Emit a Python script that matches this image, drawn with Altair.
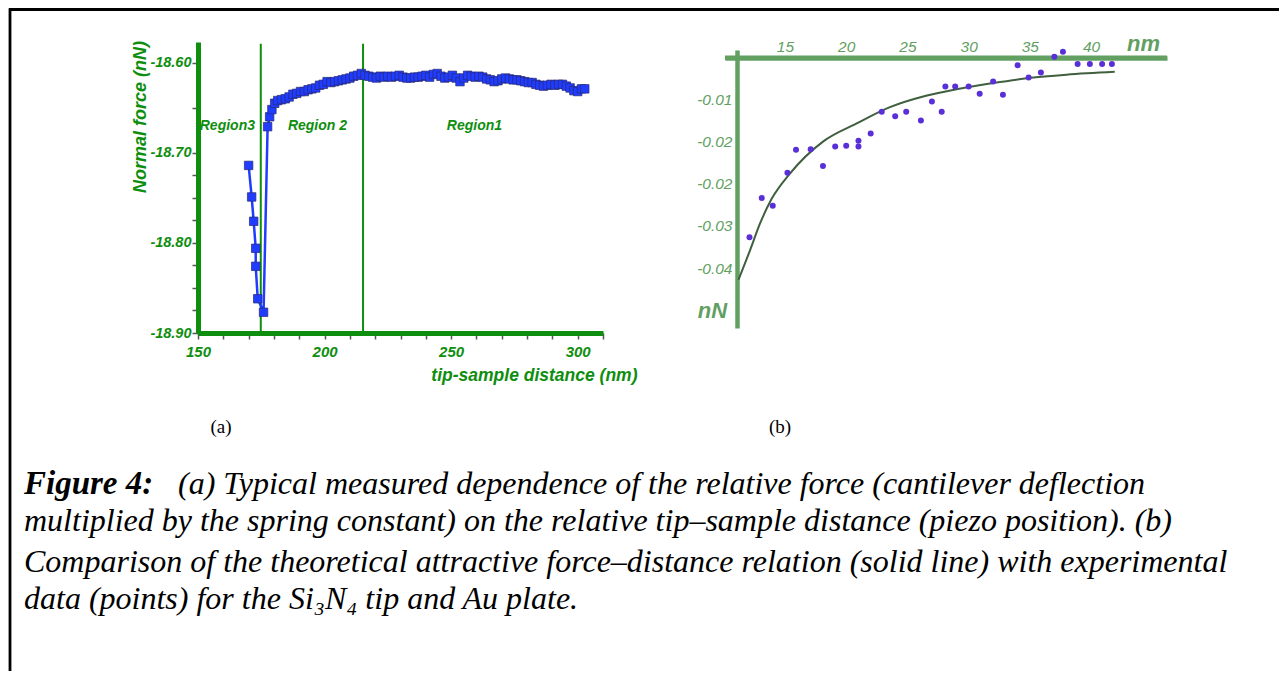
import altair as alt
import pandas as pd

# ---------------- Panel (a): measured force vs tip-sample distance ----------------
a_x = [170.0, 171.2, 172.0, 172.8, 172.8, 173.6, 175.9,
       177.5, 178.3, 179.2, 180.3, 181.5, 183.0, 184.5, 186.0, 187.5, 189.0,
       190.5, 192.0, 193.5, 195.0, 196.5, 198.0, 199.5, 201.0, 202.5, 204.0,
       205.5, 207.0, 208.5, 210.0, 211.5, 213.0, 214.5, 216.0, 217.5, 219.0,
       220.5, 222.0, 223.5, 225.0, 226.5, 228.0, 229.5, 231.0, 232.5, 234.0,
       235.5, 237.0, 238.5, 240.0, 241.5, 243.0, 244.5, 246.0, 247.5, 249.0,
       250.5, 252.0, 253.5, 255.0, 256.5, 258.0, 259.5, 261.0, 262.5, 264.0,
       265.5, 267.0, 268.5, 270.0, 271.5, 273.0, 274.5, 276.0, 277.5, 279.0,
       280.5, 282.0, 283.5, 285.0, 286.5, 288.0, 289.5, 291.0, 292.5, 294.0,
       295.5, 297.0, 298.5, 300.0, 301.5, 302.8]
a_y = [-18.714, -18.749, -18.776, -18.806, -18.826, -18.862, -18.877,
       -18.671, -18.660, -18.652, -18.645, -18.642, -18.641, -18.640, -18.638, -18.635, -18.634,
       -18.632, -18.632, -18.630, -18.629, -18.628, -18.625, -18.624, -18.621, -18.622, -18.621,
       -18.620, -18.619, -18.618, -18.617, -18.615, -18.614, -18.612, -18.614, -18.615, -18.616,
       -18.617, -18.615, -18.616, -18.615, -18.616, -18.615, -18.614, -18.616, -18.617, -18.617,
       -18.616, -18.616, -18.615, -18.614, -18.616, -18.613, -18.612, -18.615, -18.617, -18.616,
       -18.614, -18.617, -18.621, -18.617, -18.614, -18.615, -18.616, -18.615, -18.616, -18.618,
       -18.619, -18.621, -18.620, -18.618, -18.617, -18.618, -18.619, -18.619, -18.620, -18.621,
       -18.622, -18.622, -18.624, -18.625, -18.626, -18.625, -18.624, -18.625, -18.624, -18.624,
       -18.626, -18.628, -18.631, -18.632, -18.629, -18.629]

region_bounds = [174.8, 215.2]
region_top = -18.579
region_bottom = -18.90
region_names = ["Region3", "Region 2", "Region1"]
region_x = [161.6, 197.2, 259.2]
region_y = [-18.670, -18.670, -18.670]

a_xticks = list(range(150, 311, 10))
a_xlabelled = [150, 200, 250, 300]
a_yticks = [-18.60, -18.65, -18.70, -18.725, -18.75, -18.775, -18.80,
            -18.825, -18.85, -18.875, -18.90]
a_ylabelled = [-18.60, -18.70, -18.80, -18.90]

# ---------------- Panel (b): theory vs experiment ----------------
b_x = [12.1, 13.1, 14.0, 15.2, 15.9, 17.1, 18.1, 19.1, 20.0, 21.0, 21.0, 22.0,
       22.9, 24.0, 24.9, 26.1, 27.0, 27.8, 28.1, 28.9, 30.0, 30.9, 32.0, 32.8,
       34.0, 34.9, 35.9, 37.0, 37.7, 38.9, 39.9, 40.9, 41.7]
b_y = [-0.0320, -0.0250, -0.0264, -0.0205, -0.0164, -0.0163, -0.0193, -0.0158,
       -0.0157, -0.0148, -0.0158, -0.0135, -0.0096, -0.0104, -0.0096, -0.0112,
       -0.0078, -0.0096, -0.0051, -0.0051, -0.0051, -0.0064, -0.0042, -0.0066,
       -0.0013, -0.0035, -0.0026, 0.0002, 0.0011, -0.0011, -0.0011, -0.0011, -0.0011]
curve_x = [11.2, 12.15, 12.97, 13.9, 15.42, 18.13, 20.86, 23.57, 26.29, 28.12,
           32.0, 34.91, 37.98, 41.93]
curve_y = [-0.0396, -0.0343, -0.0295, -0.0252, -0.0206, -0.0149, -0.0117, -0.0088,
           -0.0069, -0.0060, -0.0045, -0.0036, -0.0030, -0.0025]
b_xticks = [15, 20, 25, 30, 35, 40]
b_yticks = [-0.0075, -0.015, -0.0225, -0.03, -0.0375]
b_ylabels = ["-0.01", "-0.02", "-0.02", "-0.03", "-0.04"]

# ---------------- Text ----------------
panel_labels = ["(a)", "(b)"]
caption_bold = "Figure 4:"
caption_lines = [
    "(a) Typical measured dependence of the relative force (cantilever deflection",
    "multiplied by the spring constant) on the relative tip\u2013sample distance (piezo position). (b)",
    "Comparison of the theoretical attractive force\u2013distance relation (solid line) with experimental",
    "data (points) for the Si\u2083N\u2084 tip and Au plate.",
]

# ---------------- Layout / style ----------------
W, H = 1271, 663
GA = "#0e8e0e"
GB = "#62a062"
BLUE = "#1f3cff"
PURPLE = "#5a2fd8"
CURVE = "#3f5f3f"
SANS = "Liberation Sans"
SERIF = "Liberation Serif"


def sxa():
    return alt.Scale(domain=[150, 310], range=[190, 595], zero=False, nice=False)


def sya():
    return alt.Scale(domain=[-18.90, -18.577], range=[325, 34], zero=False, nice=False)


def sxb():
    return alt.Scale(domain=[10.1, 46.2], range=[717, 1159], zero=False, nice=False)


def syb():
    return alt.Scale(domain=[-0.0482, 0.0014], range=[320, 42], zero=False, nice=False)


def label_expr(values, labels):
    expr = "''"
    for v, l in reversed(list(zip(values, labels))):
        expr = f"abs(datum.value - ({v})) < 1e-7 ? '{l}' : ({expr})"
    return expr


ax_a_x = alt.Axis(
    orient="bottom", offset=325 - H, values=a_xticks,
    labelExpr=label_expr(a_xlabelled, [str(v) for v in a_xlabelled]),
    domainColor=GA, domainWidth=5, tickColor="#555555", tickSize=6, tickWidth=1.5,
    labelColor=GA, labelFont=SANS, labelFontSize=15, labelFontStyle="italic",
    labelFontWeight="bold", labelPadding=5, labelFlush=False, labelOverlap=False,
    grid=False, title="tip-sample distance (nm)", titleX=629, titleY=42,
    titleAlign="right", titleBaseline="middle", titleColor=GA, titleFont=SANS,
    titleFontSize=17.5, titleFontStyle="italic", titleFontWeight="bold")

ax_a_y = alt.Axis(
    orient="left", offset=-190, values=a_yticks,
    labelExpr=label_expr(a_ylabelled, [f"{v:.2f}" for v in a_ylabelled]),
    domainColor=GA, domainWidth=5, tickColor="#555555", tickSize=6, tickWidth=1.5,
    labelColor=GA, labelFont=SANS, labelFontSize=14.5, labelFontStyle="italic",
    labelFontWeight="bold", labelPadding=1, labelFlush=False, labelOverlap=False,
    grid=False, title="Normal force (nN)", titleX=-58, titleY=108.5, titleAngle=270,
    titleAlign="center", titleBaseline="middle", titleColor=GA, titleFont=SANS,
    titleFontSize=18, titleFontStyle="italic", titleFontWeight="bold")

ax_b_x = alt.Axis(
    orient="top", offset=-50, values=b_xticks, format="d", ticks=False,
    domainColor=GB, domainWidth=4.5, labelColor=GB, labelFont=SANS, labelFontSize=15.5,
    labelFontStyle="italic", labelPadding=4, labelFlush=False, labelOverlap=False,
    grid=False, title="nm", titleX=1135, titleY=-15, titleAlign="center",
    titleBaseline="middle", titleColor=GB, titleFont=SANS, titleFontSize=22,
    titleFontStyle="italic", titleFontWeight="bold")

ax_b_y = alt.Axis(
    orient="left", offset=-729, values=b_yticks, labelExpr=label_expr(b_yticks, b_ylabels),
    ticks=False, domainColor=GB, domainWidth=4.5, labelColor=GB, labelFont=SANS,
    labelFontSize=15.5, labelFontStyle="italic", labelPadding=5, labelFlush=False,
    labelOverlap=False, grid=False, title="nN", titleX=-25, titleY=302, titleAngle=0,
    titleAlign="center", titleBaseline="middle", titleColor=GB, titleFont=SANS,
    titleFontSize=22, titleFontStyle="italic", titleFontWeight="bold")

# ---- panel a layers
df_a = pd.DataFrame({"x": a_x, "y": a_y, "i": list(range(len(a_x)))})
df_rules = pd.DataFrame({"x": region_bounds, "y": [region_top] * 2, "y2": [region_bottom] * 2})
df_reg = pd.DataFrame({"x": region_x, "y": region_y, "t": region_names})

rules_a = alt.Chart(df_rules).mark_rule(color=GA, strokeWidth=2).encode(
    x=alt.X("x:Q", scale=sxa(), axis=ax_a_x),
    y=alt.Y("y:Q", scale=sya(), axis=ax_a_y),
    y2="y2:Q")
line_a = alt.Chart(df_a).mark_line(color=BLUE, strokeWidth=2.5).encode(
    x=alt.X("x:Q", scale=sxa(), axis=None),
    y=alt.Y("y:Q", scale=sya(), axis=None),
    order="i:Q")
pts_a = alt.Chart(df_a).mark_square(size=72, color=BLUE, opacity=1, stroke="#2a2a70",
                                    strokeWidth=0.7).encode(
    x=alt.X("x:Q", scale=sxa(), axis=None),
    y=alt.Y("y:Q", scale=sya(), axis=None))
text_a = alt.Chart(df_reg).mark_text(color=GA, font=SANS, fontSize=14, fontStyle="italic",
                                     fontWeight="bold").encode(
    x=alt.X("x:Q", scale=sxa(), axis=None),
    y=alt.Y("y:Q", scale=sya(), axis=None),
    text="t:N")

# ---- panel b layers
df_b = pd.DataFrame({"x": b_x, "y": b_y})
df_c = pd.DataFrame({"x": curve_x, "y": curve_y})
zero_b = alt.Chart(pd.DataFrame({"y": [0.0]})).mark_rule(color=GB, strokeWidth=4.5).encode(
    y=alt.Y("y:Q", scale=syb(), axis=ax_b_y),
    x=alt.value(717), x2=alt.value(1159))
curve_b = alt.Chart(df_c).mark_line(color=CURVE, strokeWidth=2, interpolate="monotone").encode(
    x=alt.X("x:Q", scale=sxb(), axis=ax_b_x),
    y=alt.Y("y:Q", scale=syb(), axis=None))
pts_b = alt.Chart(df_b).mark_circle(size=36, color=PURPLE, opacity=1).encode(
    x=alt.X("x:Q", scale=sxb(), axis=None),
    y=alt.Y("y:Q", scale=syb(), axis=None))

# ---- text / frame layers
lab_a = alt.Chart(pd.DataFrame({"t": [panel_labels[0]]})).mark_text(
    font=SERIF, fontSize=19, color="black").encode(
    text="t:N", x=alt.value(213), y=alt.value(419))
lab_b = alt.Chart(pd.DataFrame({"t": [panel_labels[1]]})).mark_text(
    font=SERIF, fontSize=19, color="black").encode(
    text="t:N", x=alt.value(772), y=alt.value(419))

cap_y = [476, 513, 554, 591]
cap_x = [170, 16, 16, 16]
cap_layers = [alt.Chart(pd.DataFrame({"t": [caption_bold]})).mark_text(
    font=SERIF, fontSize=33, fontStyle="italic", fontWeight="bold", color="black",
    align="left", baseline="middle").encode(
    text="t:N", x=alt.value(16), y=alt.value(cap_y[0]))]
for k, line in enumerate(caption_lines):
    cap_layers.append(alt.Chart(pd.DataFrame({"t": [line]})).mark_text(
        font=SERIF, fontSize=32, fontStyle="italic", color="black",
        align="left", baseline="middle").encode(
        text="t:N", x=alt.value(cap_x[k]), y=alt.value(cap_y[k])))

frame_top = alt.Chart(pd.DataFrame({"k": [0]})).mark_rule(color="black", strokeWidth=2.8).encode(
    x=alt.value(1), x2=alt.value(W), y=alt.value(1.5))
frame_left = alt.Chart(pd.DataFrame({"k": [0]})).mark_rule(color="black", strokeWidth=2.8).encode(
    x=alt.value(2), y=alt.value(0.2), y2=alt.value(H))

chart = alt.layer(
    rules_a, line_a, pts_a, text_a, zero_b, curve_b, pts_b,
    lab_a, lab_b, *cap_layers, frame_top, frame_left
).resolve_scale(x="independent", y="independent").properties(
    width=W, height=H, autosize=alt.AutoSizeParams(type="none"), padding=0,
    background="white"
).configure_view(stroke=None)

chart.save("out.html", embed_options={"renderer": "svg", "actions": False})
